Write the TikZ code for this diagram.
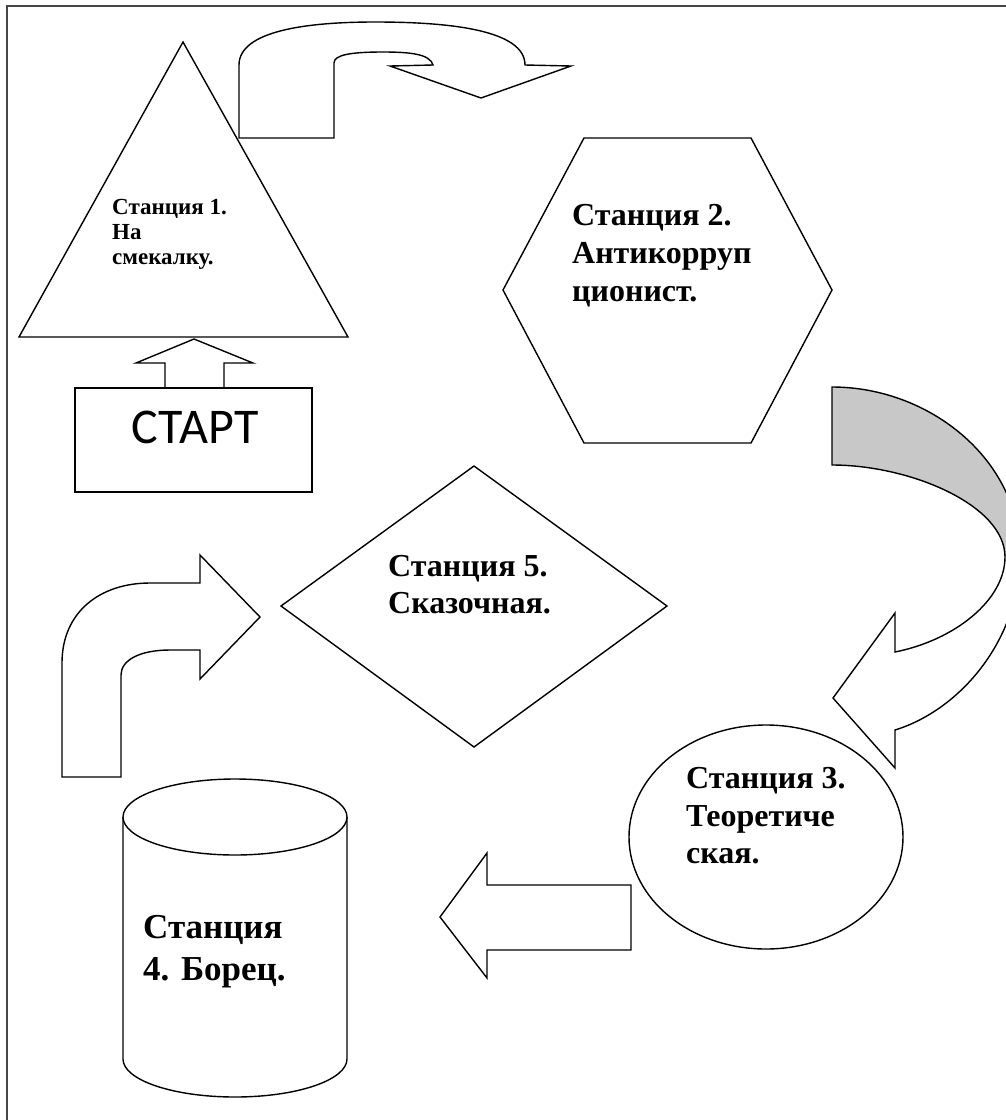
\documentclass[tikz,border=0pt]{standalone}
\usepackage{fontspec}
\setmainfont{Liberation Serif}
\newfontfamily\startfont{Carlito}
\definecolor{bandgray}{RGB}{200,200,200}
\definecolor{framegray}{RGB}{70,70,70}
\begin{document}
\begin{tikzpicture}[x=1pt,y=-1pt,
  shapeline/.style={draw=black, line width=1.4pt, line join=miter, fill=white},
  lbl/.style={anchor=west, align=left, inner sep=0pt},
]
\useasboundingbox (0,0) rectangle (1006,1120);
\fill[white] (0,0) rectangle (1006,1120);
% page frame (left and top edges visible)
\draw[line width=2pt, framegray] (7,1120) -- (7,6) -- (1006,6);

% ---- Station 1: triangle
\draw[shapeline] (183,42) -- (348,337) -- (19,337) -- cycle;
% U-turn arrow from station 1 to station 2
\draw[shapeline] (239,138) -- (239,65)
  .. controls (239,30) and (310,22) .. (375,22)
  .. controls (450,22) and (525,30) .. (525,65)
  -- (571,66) -- (481,98) -- (390,66) -- (433,65)
  .. controls (430,54) and (410,52) .. (383,52)
  .. controls (350,52) and (334,55) .. (334,63)
  -- (334,138) -- cycle;

% ---- START box and up arrow
\draw[shapeline] (165,388) -- (165,363) -- (136,363) -- (194,339) -- (253,363) -- (224,363) -- (224,388);
\draw[shapeline] (75,388) rectangle (312,492);
\node[inner sep=0pt, font=\startfont\fontsize{50}{56}\selectfont] (start) at (195,427) {СТАРТ};

% ---- Station 2: hexagon
\draw[shapeline] (584,138) -- (751,138) -- (832,290) -- (751,443) -- (584,443) -- (503,290) -- cycle;

% ---- curved arrow from station 2 to station 3
\begin{scope}
\clip (0,0) rectangle (1006,1120);
\fill[white] (832,387)
  .. controls (930,387) and (1020,460) .. (1020,555)
  .. controls (1020,640) and (960,710) .. (895,730)
  -- (895,768) -- (833,698) -- (895,613) -- (895,652)
  .. controls (955,640) and (1005,600) .. (1005,557)
  .. controls (1005,505) and (910,465) .. (832,465) -- cycle;
\fill[bandgray] (832,387)
  .. controls (930,387) and (1020,460) .. (1020,555)
  -- (1005,557)
  .. controls (1005,505) and (910,465) .. (832,465) -- cycle;
\draw[line width=1.4pt, line join=miter] (832,387)
  .. controls (930,387) and (1020,460) .. (1020,555)
  .. controls (1020,640) and (960,710) .. (895,730)
  -- (895,768) -- (833,698) -- (895,613) -- (895,652)
  .. controls (955,640) and (1005,600) .. (1005,557)
  .. controls (1005,505) and (910,465) .. (832,465) -- cycle;
\end{scope}

% ---- Station 3: ellipse
\draw[shapeline] (766,837) ellipse [x radius=137, y radius=112];

% ---- left arrow from station 3 to station 4
\draw[shapeline] (631,885) -- (487,885) -- (487,853) -- (440,917) -- (487,978) -- (487,950) -- (631,950) -- cycle;

% ---- Station 4: cylinder
\draw[shapeline] (123,817) -- (123,1059)
  .. controls (123,1080) and (173,1097) .. (235,1097)
  .. controls (297,1097) and (347,1080) .. (347,1059) -- (347,817);
\draw[shapeline] (235,817) ellipse [x radius=112, y radius=38];

% ---- bent arrow from station 4 to station 5
\draw[shapeline] (62,777) -- (62,663)
  .. controls (62,612) and (100,583) .. (150,583)
  -- (200,583) -- (200,555) -- (260,617) -- (200,679) -- (200,650) -- (170,650)
  .. controls (140,650) and (121,660) .. (121,675)
  -- (121,777) -- cycle;

% ---- Station 5: diamond
\draw[shapeline] (474,466) -- (667,606) -- (474,747) -- (281,606) -- cycle;

% ---- texts
\node[lbl, font=\bfseries\fontsize{23}{25}\selectfont] (s1) at (112,234) {Станция 1.\\На\\смекалку.};
\node[lbl, font=\bfseries\fontsize{32}{38}\selectfont] (s2) at (572,256) {Станция 2.\\Антикорруп\\ционист.};
\node[lbl, font=\bfseries\fontsize{32}{37.5}\selectfont] (s3) at (686,816) {Станция 3.\\Теоретиче\\ская.};
\node[lbl, font=\bfseries\fontsize{35}{42}\selectfont] (s4) at (143,952) {Станция\\4. Борец.};
\node[lbl, font=\bfseries\fontsize{32}{37}\selectfont] (s5) at (388,585) {Станция 5.\\Сказочная.};
\end{tikzpicture}
\end{document}
